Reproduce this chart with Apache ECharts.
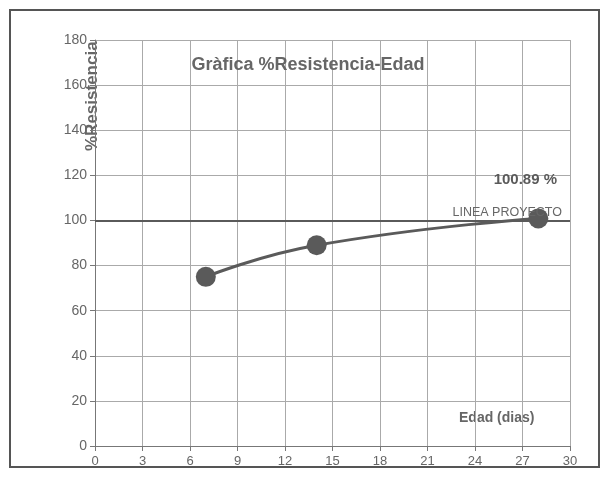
<!DOCTYPE html>
<html>
<head>
<meta charset="utf-8">
<script src="https://cdn.jsdelivr.net/npm/echarts@6/dist/echarts.min.js"></script>
<style>
  html, body { margin: 0; padding: 0; background: #fff; }
  #box { position: absolute; left: 9px; top: 9px; width: 587px; height: 455px; border: 2px solid #555; }
  #chart { width: 608px; height: 480px; }
</style>
</head>
<body>
<div id="box"></div>
<div id="chart"></div>
<script>
// edad (dias) y % de resistencia
var edades = [7, 14, 28];
var resistencia = [75, 89, 100.89];
var lineaProyecto = 100;
var xTicks = [0, 3, 6, 9, 12, 15, 18, 21, 24, 27, 30];

var gris = '#5a5a5a';
var chart = echarts.init(document.getElementById('chart'));

var puntos = edades.map(function (e, i) {
    var p = { value: [e, resistencia[i]] };
    if (i === edades.length - 1) {
        p.label = {
            show: true,
            position: 'top',
            offset: [-13, -16],
            formatter: function (params) { return params.value[1].toFixed(2) + ' %'; },
            color: gris,
            fontWeight: 'bold',
            fontSize: 15,
            fontFamily: 'Liberation Sans'
        };
    }
    return p;
});

var option = {
    backgroundColor: 'transparent',
    animation: false,
    title: {
        text: 'Gràfica %Resistencia-Edad',
        left: 303,
        textAlign: 'center',
        top: 51,
        textStyle: { color: '#666', fontSize: 18, fontWeight: 'bold', fontFamily: 'Liberation Sans' }
    },
    grid: { left: 95, right: 38, top: 40, bottom: 34, containLabel: false, outerBoundsMode: 'none' },
    xAxis: {
        type: 'value',
        min: xTicks[0],
        max: xTicks[xTicks.length - 1],
        interval: 3,
        axisLine: { lineStyle: { color: '#777' } },
        axisTick: { show: true, lineStyle: { color: '#777' } },
        axisLabel: { color: '#666', fontSize: 13, fontFamily: 'Liberation Sans', margin: 9 },
        splitLine: { show: true, lineStyle: { color: '#aaa', width: 1 } }
    },
    yAxis: {
        type: 'value',
        min: 0,
        max: 180,
        interval: 20,
        axisLine: { show: true, lineStyle: { color: '#777' } },
        axisTick: { show: true, lineStyle: { color: '#777' } },
        axisLabel: { color: '#666', fontSize: 14, fontFamily: 'Liberation Sans', margin: 8 },
        splitLine: { show: true, lineStyle: { color: '#aaa', width: 1 } }
    },
    graphic: [
        {
            type: 'text',
            x: 84,
            y: 151,
            rotation: Math.PI / 2,
            style: { text: '%Resistencia', fill: '#666', fontSize: 17, fontWeight: 'bold', fontFamily: 'Liberation Sans' }
        },
        {
            type: 'text',
            left: 459,
            top: 411,
            style: { text: 'Edad (dias)', fill: '#666', fontSize: 14, fontWeight: 'bold', fontFamily: 'Liberation Sans' }
        }
    ],
    series: [
        {
            type: 'line',
            smooth: true,
            data: puntos,
            symbol: 'circle',
            symbolSize: 20,
            itemStyle: { color: gris },
            lineStyle: { color: gris, width: 3 },
            z: 3,
            markLine: {
                silent: true,
                symbol: 'none',
                data: [{ yAxis: lineaProyecto }],
                lineStyle: { color: gris, width: 2, type: 'solid' },
                label: {
                    show: true,
                    position: 'insideEndTop',
                    formatter: 'LINEA PROYECTO',
                    color: '#666',
                    fontSize: 12.5,
                    fontFamily: 'Liberation Sans',
                    distance: [8, 1]
                }
            }
        }
    ]
};

chart.setOption(option);
</script>
</body>
</html>
